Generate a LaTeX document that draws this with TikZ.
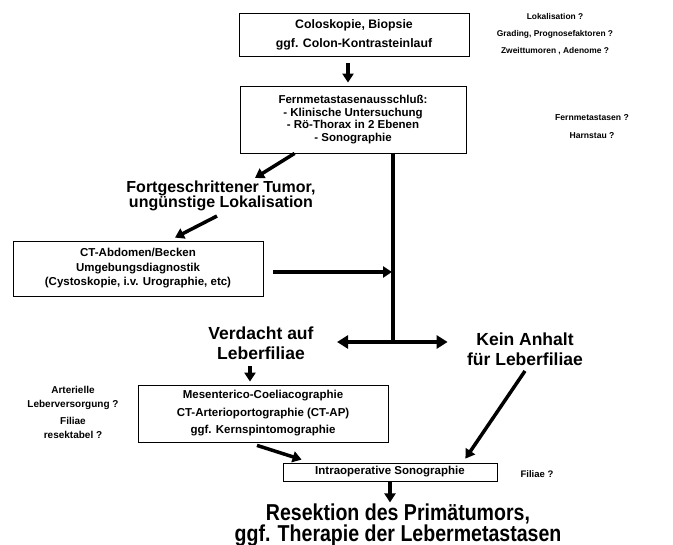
\documentclass[tikz,border=0pt]{standalone}
\usepackage{fontspec}
\setmainfont{Liberation Sans}
\newfontfamily\narrowfont{Liberation Sans}[FakeStretch=0.85]
\usetikzlibrary{arrows.meta, positioning, calc}
\tikzset{
  stage/.style = {
    draw,
    line width=0.8pt,
    align=center,
    inner sep=2pt,
    font=\bfseries\fontsize{11.5}{14.5}\selectfont,
  },
  verdict/.style = {
    align=center,
    font=\bfseries\fontsize{17.5}{20}\selectfont,
  },
  outcome/.style = {
    align=center,
    inner sep=1pt,
    font=\narrowfont\bfseries\fontsize{23}{18}\selectfont,
  },
  question/.style = {
    align=center,
    font=\bfseries\fontsize{8.4}{17}\selectfont,
  },
  flow/.style = {
    -{Triangle[length=9pt, width=11pt]},
    line width=3.5pt,
  },
  biflow/.style = {
    {Triangle[length=11pt, width=13pt]}-{Triangle[length=11pt, width=13pt]},
    line width=3.5pt,
  },
  trunk/.style = {
    line width=4pt,
  },
}

\begin{document}
\begin{tikzpicture}[x=1pt, y=-1pt]
\useasboundingbox (0,0) rectangle (673,545);

% Diagnostik
\node (colo) [stage, minimum width=230pt, minimum height=43pt,
  font=\bfseries\fontsize{12.3}{14}\selectfont] at (354,34.5)
  {Coloskopie, Biopsie\\[5pt] ggf. Colon-Kontrasteinlauf};
\node (fern) [stage, minimum width=226pt, minimum height=67pt,
  font=\bfseries\fontsize{11.5}{12.5}\selectfont] at (353,119.5)
  {Fernmetastasenausschluß:\\ - Klinische Untersuchung\\
   - Rö-Thorax in 2 Ebenen\\ - Sonographie};
\node (fort) [verdict, font=\bfseries\fontsize{16}{15}\selectfont] at (221,195.5)
  {Fortgeschrittener Tumor,\\ ungünstige Lokalisation};
\node (ct) [stage, minimum width=250pt, minimum height=55pt] at (138,268.5)
  {CT-Abdomen/Becken\\ Umgebungsdiagnostik\\ (Cystoskopie, i.v. Urographie, etc)};

% Leber
\node (verd) [verdict] at (261,343) {Verdacht auf\\ Leberfiliae};
\node (kein) [verdict] at (525,349) {Kein Anhalt\\ für Leberfiliae};
\node (meso) [stage, minimum width=250pt, minimum height=57pt] at (263,413.5)
  {Mesenterico-Coeliacographie\\[3pt] CT-Arterioportographie (CT-AP)\\[3pt]
   ggf. Kernspintomographie};
\node (iop) [stage, minimum width=214pt, minimum height=18pt] at (390,472)
  {Intraoperative Sonographie};
\node (resek) [outcome] at (398,525)
  {Resektion des Primätumors,\\ ggf. Therapie der Lebermetastasen};

% Fragestellungen
\node (qColo) [question] at (555,34)
  {Lokalisation ?\\ Grading, Prognosefaktoren ?\\ Zweittumoren , Adenome ?};
\node (qFern) [question, font=\bfseries\fontsize{8.6}{18}\selectfont] at (592,127)
  {Fernmetastasen ?\\ Harnstau ?};
\node (qMeso) [question, font=\bfseries\fontsize{10}{14}\selectfont] at (73,412)
  {Arterielle\\ Leberversorgung ?\\[3pt] Filiae\\ resektabel ?};
\node (qIop) [question, font=\bfseries\fontsize{9.5}{14}\selectfont] at (537,474)
  {Filiae ?};

% Pfeile
\coordinate (split) at (393,342);
\draw[flow] ($(colo.south)+(-6,7)$) -- ($(fern.north)+(-5,-3)$);
\draw[trunk] (fern.south -| split) -- (split);
\draw[biflow] ($(split -| verd.east)+(20,0)$) -- ($(split -| kein.west)+(-16,0)$);
\draw[flow] ($(fern.south west)+(55,0)$) -- ($(fort.north)+(34,1)$);
\draw[flow] ($(fort.south)+(-4,2)$) -- ($(ct.north)+(37,-3)$);
\draw[flow] ($(ct.east)+(10,3.5)$) -- ($(ct.east -| split)+(-1,3.5)$);
\draw[flow] ($(verd.south)+(-11,3)$) -- ($(meso.north)+(-13,-3)$);
\draw[flow] ($(meso.south)+(-6,3)$) -- ($(iop.north west)+(19,-3)$);
\draw[flow] ($(kein.south)+(0,2)$) -- ($(iop.north east)+(-32,-4)$);
\draw[flow, shorten <=1pt] (iop.south) -- (iop.south |- resek.north);

\end{tikzpicture}
\end{document}
